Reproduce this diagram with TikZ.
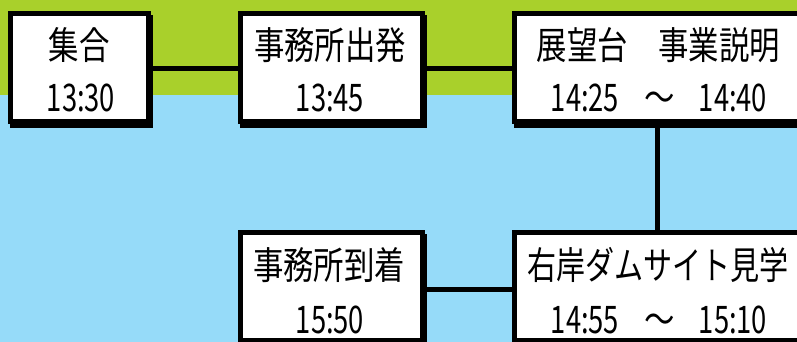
\documentclass[tikz,border=0pt]{standalone}
\usepackage{fontspec}
\usetikzlibrary{backgrounds}
\newfontfamily\jpfont[FakeStretch=0.8]{Noto Sans CJK JP}
\newfontfamily\jpnarrow[FakeStretch=0.765]{Noto Sans CJK JP}
\newfontfamily\numfont[FakeStretch=0.72]{Noto Sans CJK JP}
\definecolor{bandgreen}{HTML}{A9D02B}
\definecolor{bandblue}{HTML}{96DBF9}
\tikzset{
  box/.style={draw=black, fill=white, line width=5pt, inner sep=0pt, outer sep=0pt, rectangle},
  topbox/.style={box, minimum height=108pt},
  lbl/.style={anchor=base, inner sep=0pt, font=\jpfont\fontsize{38}{40}\selectfont},
  lblnarrow/.style={anchor=base, inner sep=0pt, font=\jpnarrow\fontsize{38}{40}\selectfont},
  num/.style={anchor=base, inner sep=0pt, font=\numfont\fontsize{38}{40}\selectfont},
  link/.style={draw=black, line width=5pt},
  shadowfill/.style={fill=black}
}
\begin{document}
\begin{tikzpicture}[x=1pt,y=-1pt]
\useasboundingbox (0,0) rectangle (797,342);
\clip (0,0) rectangle (797,342);
% boxes
\node[topbox, minimum width=138pt] (b1) at (79.5,67.5) {};
\node[topbox, minimum width=182pt] (b2) at (331.5,67.5) {};
\node[topbox, minimum width=287pt] (b3) at (658,67.5) {};
\node[topbox, minimum width=182pt] (b4) at (331.5,286.5) {};
\node[topbox, minimum width=287pt] (b5) at (658,286.5) {};
% background and shadows
\begin{scope}[on background layer]
  \fill[bandblue] (0,0) rectangle (797,342);
  \fill[bandgreen] (0,0) rectangle (797,95);
  \foreach \b in {b1,b2,b3,b4,b5}{
    \fill[shadowfill] ([xshift=-0.5pt,yshift=-1.5pt]\b.north west) rectangle ([xshift=4.5pt,yshift=-6.5pt]\b.south east);
  }
\end{scope}
% connectors
\draw[link] ([yshift=-1pt]b1.east) -- ([yshift=-1pt]b2.west);
\draw[link] ([yshift=-1pt]b2.east) -- ([yshift=-1pt]b3.west);
\draw[link] ([xshift=-1pt]b3.south) -- ([xshift=-1pt]b5.north);
\draw[link] ([yshift=-3pt]b4.east) -- ([yshift=-3pt]b5.west);
% texts
\node[lbl] (t1) at (79,60) {集合};
\node[num] (n1) at (81,112) {13:30};
\node[lbl] (t2) at (330,60) {事務所出発};
\node[num] (n2) at (330,112) {13:45};
\node[lbl] (t3) at (658.5,60) {展望台　事業説明};
\node[num] (n3a) at (585,112) {14:25};
\node[lbl] (n3b) at (659.5,112) {～};
\node[num] (n3c) at (733,112) {14:40};
\node[lbl] (t4) at (329,279) {事務所到着};
\node[num] (n4) at (330,333) {15:50};
\node[lblnarrow] (t5) at (658,279) {右岸ダムサイト見学};
\node[num] (n5a) at (585,333) {14:55};
\node[lbl] (n5b) at (659.5,333) {～};
\node[num] (n5c) at (733,333) {15:10};
\end{tikzpicture}
\end{document}
